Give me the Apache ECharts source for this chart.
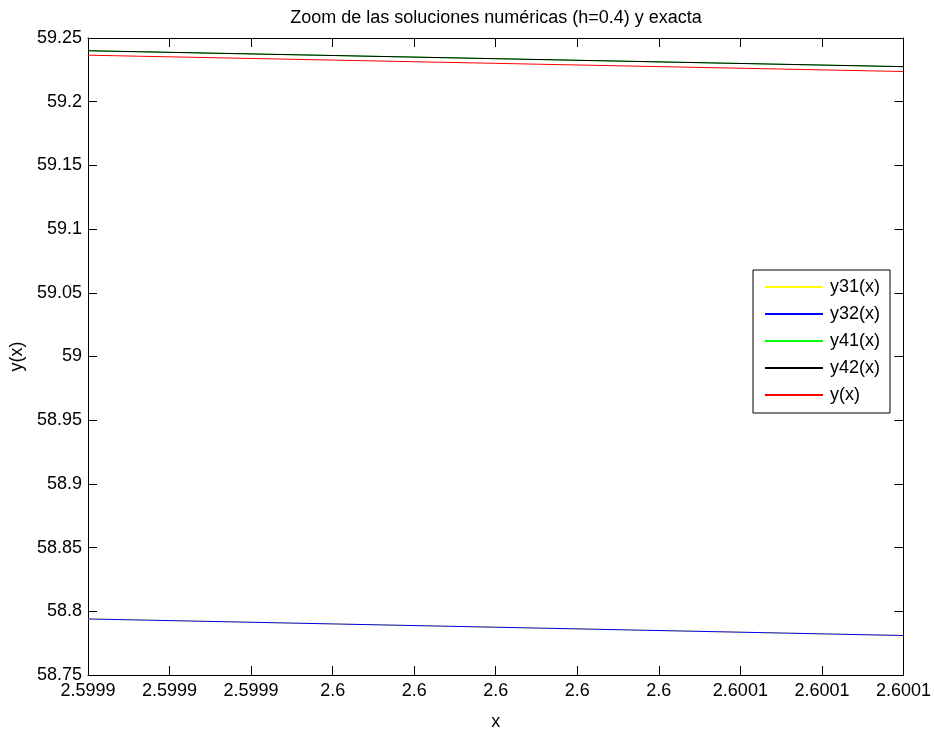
<!DOCTYPE html>
<html>
<head>
<meta charset="utf-8">
<script src="https://cdn.jsdelivr.net/npm/echarts@6/dist/echarts.min.js"></script>
<style>
  html, body { margin: 0; padding: 0; background: #fff; }
  #chart { width: 934px; height: 736px; }
</style>
</head>
<body>
<div id="chart"></div>
<script>
// Zoomed window around x = 2.6: endpoints of each curve segment
const xValues = [2.5999, 2.6001];
const y31 = [58.7940, 58.7810];
const y32 = [58.7940, 58.7810];
const y41 = [59.2400, 59.2275];
const y42 = [59.2400, 59.2275];
const yExact = [59.2365, 59.2237];

const seriesNames = ['y31(x)', 'y32(x)', 'y41(x)', 'y42(x)', 'y(x)'];
const seriesColors = ['#ffff00', '#0000ff', '#00ff00', '#000000', '#ff0000'];
const seriesValues = [y31, y32, y41, y42, yExact];

const FONT = 'Liberation Sans, Arial, sans-serif';
const fmt = v => Number(v.toFixed(4)).toString();

const chart = echarts.init(document.getElementById('chart'), null, { renderer: 'canvas' });

const baseX = {
  type: 'value', min: 2.5999, max: 2.6001, interval: 0.00002,
  axisLine: { show: true, onZero: false, lineStyle: { color: '#000', width: 1 } },
  axisTick: { show: true, inside: true, length: 9, lineStyle: { color: '#000' } },
  splitLine: { show: false }
};
const baseY = {
  type: 'value', min: 58.75, max: 59.25, interval: 0.05,
  axisLine: { show: true, onZero: false, lineStyle: { color: '#000', width: 1 } },
  axisTick: { show: true, inside: true, length: 9, lineStyle: { color: '#000' } },
  splitLine: { show: false }
};

chart.setOption({
  animation: false,
  backgroundColor: '#fff',
  title: {
    text: 'Zoom de las soluciones numéricas (h=0.4) y exacta',
    left: 496, textAlign: 'center', top: 9, padding: 0,
    textStyle: { fontFamily: FONT, fontSize: 18, fontWeight: 'normal', color: '#000' }
  },
  grid: { left: 88, right: 30, top: 38, bottom: 49, containLabel: false },
  legend: {
    orient: 'vertical', left: 753, top: 270, width: 138,
    padding: [8, 10, 9, 11],
    backgroundColor: '#fff', borderColor: '#000', borderWidth: 1,
    itemWidth: 58, itemHeight: 16, itemGap: 9,
    itemStyle: { opacity: 0, borderWidth: 0 },
    textStyle: { fontFamily: FONT, fontSize: 18, color: '#000', padding: [0, 0, 0, 2] },
    data: seriesNames
  },
  xAxis: [
    Object.assign({}, baseX, {
      position: 'bottom',
      name: 'x', nameLocation: 'middle', nameGap: 38,
      nameTextStyle: { fontFamily: FONT, fontSize: 18, color: '#000' },
      axisLabel: { show: true, margin: 7, fontFamily: FONT, fontSize: 18, color: '#000',
                   showMinLabel: true, showMaxLabel: true, formatter: fmt, hideOverlap: false }
    }),
    Object.assign({}, baseX, { position: 'top', axisLabel: { show: false } })
  ],
  yAxis: [
    Object.assign({}, baseY, {
      position: 'left',
      name: 'y(x)', nameLocation: 'middle', nameGap: 60, nameRotate: 90,
      nameTextStyle: { fontFamily: FONT, fontSize: 18, color: '#000' },
      axisLabel: { show: true, margin: 6, fontFamily: FONT, fontSize: 18, color: '#000',
                   showMinLabel: true, showMaxLabel: true, formatter: fmt, hideOverlap: false }
    }),
    Object.assign({}, baseY, { position: 'right', axisLabel: { show: false } })
  ],
  series: seriesNames.map((name, i) => ({
    name: name,
    type: 'line',
    xAxisIndex: 0, yAxisIndex: 0,
    symbol: 'none',
    lineStyle: { color: seriesColors[i], width: 1 },
    itemStyle: { color: seriesColors[i] },
    data: xValues.map((x, k) => [x, seriesValues[i][k]])
  }))
});
</script>
</body>
</html>
